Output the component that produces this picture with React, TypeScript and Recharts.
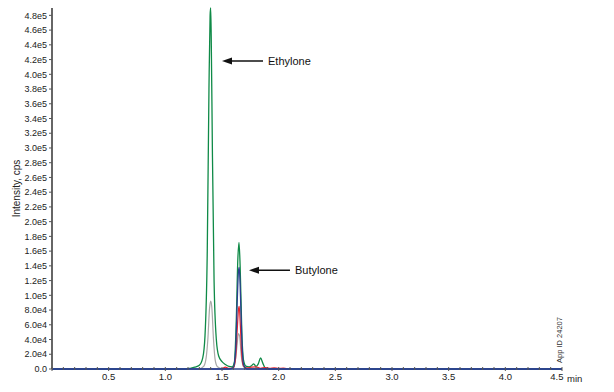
import React from 'react';
import { LineChart, Line, XAxis, YAxis, ReferenceDot, Customized } from 'recharts';

// retention time (min) / intensity (cps) per trace
const greenTime = [0, 1.18, 1.22, 1.26, 1.3, 1.33, 1.35, 1.37, 1.385, 1.395, 1.4, 1.405, 1.415, 1.43, 1.45, 1.47, 1.5, 1.53, 1.56, 1.59, 1.61, 1.625, 1.64, 1.65, 1.66, 1.675, 1.69, 1.71, 1.74, 1.76, 1.78, 1.8, 1.82, 1.84, 1.86, 1.88, 1.9, 4.5];
const greenVals = [0, 0, 1000, 2500, 5000, 15000, 45000, 160000, 380000, 480000, 490000, 450000, 300000, 120000, 40000, 18000, 10000, 6000, 3500, 3000, 10000, 60000, 150000, 172000, 140000, 50000, 12000, 4000, 3000, 4500, 7000, 3500, 7000, 15000, 8000, 1500, 0, 0];

const grayTime = [1.3, 1.34, 1.36, 1.375, 1.39, 1.4, 1.41, 1.425, 1.44, 1.46, 1.5, 1.58, 1.61, 1.63, 1.645, 1.655, 1.67, 1.69, 1.72];
const grayVals = [0, 4000, 15000, 40000, 82000, 92000, 84000, 40000, 12000, 3000, 500, 0, 5000, 28000, 48000, 45000, 18000, 3000, 0];

const blueTime = [0, 1.56, 1.6, 1.62, 1.635, 1.645, 1.652, 1.66, 1.675, 1.69, 1.72, 4.5];
const blueVals = [0, 0, 2000, 25000, 95000, 132000, 138000, 115000, 40000, 6000, 0, 0];

const redTime = [1.5, 1.53, 1.56, 1.6, 1.62, 1.635, 1.645, 1.652, 1.66, 1.675, 1.69, 1.72, 1.76, 1.8, 1.84, 1.88, 1.92, 1.96, 2.0, 2.04, 2.08];
const redVals = [0, 2500, 800, 1500, 15000, 55000, 80000, 85000, 65000, 18000, 4000, 1500, 2500, 3000, 1000, 2000, 1000, 1500, 800, 1200, 0];

const xTicks = [0, 0.1, 0.2, 0.3, 0.4, 0.5, 0.6, 0.7, 0.8, 0.9, 1.0, 1.1, 1.2, 1.3, 1.4, 1.5, 1.6, 1.7, 1.8, 1.9, 2.0, 2.1, 2.2, 2.3, 2.4, 2.5, 2.6, 2.7, 2.8, 2.9, 3.0, 3.1, 3.2, 3.3, 3.4, 3.5, 3.6, 3.7, 3.8, 3.9, 4.0, 4.1, 4.2, 4.3, 4.4, 4.5];
const yTicks = [0, 20000, 40000, 60000, 80000, 100000, 120000, 140000, 160000, 180000, 200000, 220000, 240000, 260000, 280000, 300000, 320000, 340000, 360000, 380000, 400000, 420000, 440000, 460000, 480000];

const annotations = [
  { label: 'Ethylone', time: 1.5, intensity: 418000 },
  { label: 'Butylone', time: 1.738, intensity: 134000 },
];

const zip = (t: number[], v: number[]) => t.map((x, i) => ({ t: x, v: v[i] }));

const FONT = '"Liberation Sans", Arial, sans-serif';

const fmtY = (v: number) => (v === 0 ? '0.0' : v.toExponential(1).replace('e+', 'e'));

const XTick = (props: any) => {
  const { x, y, payload } = props;
  const v = Math.round(payload.value * 10);
  const major = v % 5 === 0;
  const last = v === 45;
  return (
    <g>
      <line x1={x} x2={x} y1={y - 4} y2={y - 4 + (major ? 4 : 3)} stroke="#555" strokeWidth={1} />
      {major && v !== 0 && (
        <text x={last ? x + 1.5 : x} y={y + 9} textAnchor={last ? 'end' : 'middle'} fontSize={9.5} fill="#222" fontFamily={FONT}>
          {payload.value.toFixed(1)}
        </text>
      )}
    </g>
  );
};

const Arrow = (label: string) => (props: any) => {
  const { cx, cy } = props;
  return (
    <g>
      <polygon points={`${cx},${cy} ${cx + 10},${cy - 3.5} ${cx + 10},${cy + 3.5}`} fill="#111" />
      <line x1={cx + 8} x2={cx + 41} y1={cy} y2={cy} stroke="#111" strokeWidth={1.5} />
      <text x={cx + 46} y={cy + 4} fontSize={11} fill="#111" fontFamily={FONT}>{label}</text>
    </g>
  );
};

const Extras = () => (
  <g fontFamily={FONT}>
    <text x={567} y={382} fontSize={9.5} fill="#222">min</text>
    <text x={0} y={0} fontSize={7.5} fill="#333" textAnchor="middle" transform="translate(562,340) rotate(-90)">App ID 24207</text>
  </g>
);

export default function App() {
  return (
    <div style={{ position: 'absolute', left: 0, top: 0, background: '#fff' }}>
      <LineChart width={614} height={392} margin={{ top: 8, right: 52, bottom: 3, left: 0 }}>
        <XAxis
          type="number"
          dataKey="t"
          domain={[0, 4.5]}
          ticks={xTicks}
          interval={0}
          tick={<XTick />}
          tickLine={false}
          tickSize={0}
          height={20}
          axisLine={{ stroke: '#2b3f8f', strokeWidth: 1.5 }}
          allowDuplicatedCategory={false}
        />
        <YAxis
          type="number"
          domain={[0, 490000]}
          ticks={yTicks}
          interval={0}
          tickFormatter={fmtY}
          width={52}
          tickSize={3}
          tickLine={{ stroke: '#555' }}
          axisLine={{ stroke: '#666', strokeWidth: 2 }}
          tick={{ fontSize: 9, fill: '#222', fontFamily: FONT }}
          label={{ value: 'Intensity, cps', angle: -90, position: 'insideLeft', offset: 16, style: { fontSize: 10, fill: '#222', fontFamily: FONT, textAnchor: 'middle' } }}
        />
        <Line data={zip(grayTime, grayVals)} dataKey="v" stroke="#a8a8a8" strokeWidth={1.2} dot={false} type="monotone" isAnimationActive={false} />
        <Line data={zip(greenTime, greenVals)} dataKey="v" stroke="#0f8a47" strokeWidth={1.3} dot={false} type="monotone" isAnimationActive={false} />
        <Line data={zip(redTime, redVals)} dataKey="v" stroke="#e8262e" strokeWidth={1.2} dot={false} type="monotone" isAnimationActive={false} />
        <Line data={zip(blueTime, blueVals)} dataKey="v" stroke="#2b3f8f" strokeWidth={1.3} dot={false} type="monotone" isAnimationActive={false} />
        {annotations.map((a) => (
          <ReferenceDot key={a.label} x={a.time} y={a.intensity} r={0} shape={Arrow(a.label)} ifOverflow="visible" />
        ))}
        <Customized component={Extras} />
      </LineChart>
    </div>
  );
}
